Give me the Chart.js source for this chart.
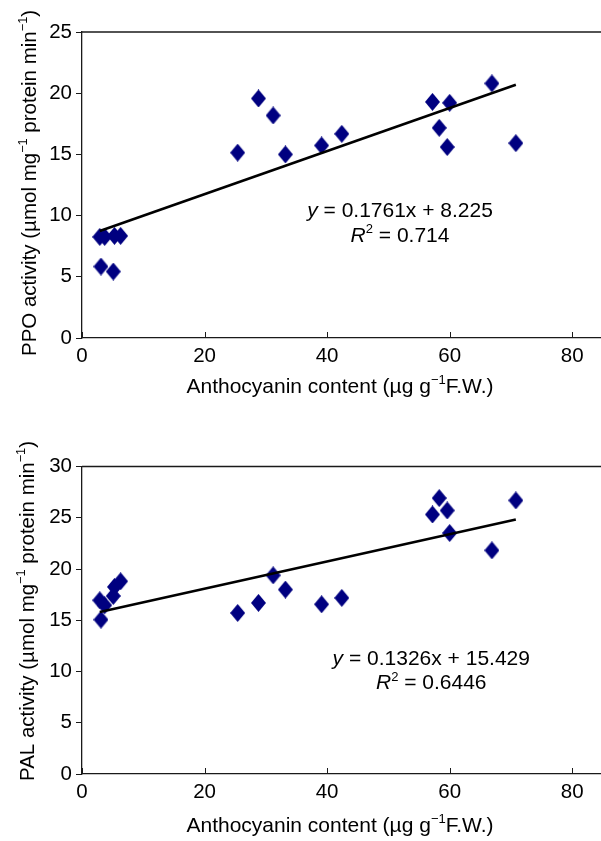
<!DOCTYPE html>
<html>
<head>
<meta charset="utf-8">
<script src="https://cdn.jsdelivr.net/npm/chart.js@4.4.1/dist/chart.umd.min.js"></script>
<style>
  html, body { margin: 0; padding: 0; background: #fff; }
  #wrap { position: relative; width: 601px; height: 841px; overflow: hidden; }
  canvas { position: absolute; left: 0; }
</style>
</head>
<body>
<div id="wrap">
  <canvas id="chart1" width="601" height="420" style="top:0"></canvas>
  <canvas id="chart2" width="601" height="421" style="top:420px"></canvas>
</div>
<script>
// values
var anthocyanin = [2.9, 3.1, 3.7, 5.1, 5.3, 6.3, 25.4, 28.8, 31.2, 33.2, 39.1, 42.4, 57.2, 58.3, 59.6, 60.0, 66.9, 70.8];
var ppo = [8.26, 5.84, 8.26, 5.43, 8.34, 8.34, 15.14, 19.57, 18.18, 15.0, 15.73, 16.68, 19.29, 17.17, 15.6, 19.21, 20.8, 15.92];
var pal = [16.95, 15.06, 16.46, 17.37, 18.25, 18.8, 15.71, 16.69, 19.38, 17.99, 16.56, 17.18, 25.32, 26.92, 25.71, 23.51, 21.82, 26.69];

// trend line end points
var fitX = [2.9, 70.8];
var ppoFit = [8.74, 20.69];
var palFit = [15.81, 24.82];

var xTicks = [0, 20, 40, 60, 80];

var FONT = '"Liberation Sans", Arial, sans-serif';
var AXIS = "#1a1a1a";
var MARK = "#000080";

Chart.defaults.font.family = FONT;
Chart.defaults.font.size = 20.5;
Chart.defaults.color = "#000";

// tall diamond marker
function diamond(w, h) {
  var c = document.createElement("canvas");
  c.width = w; c.height = h;
  var g = c.getContext("2d");
  g.fillStyle = MARK;
  g.beginPath();
  g.moveTo(w / 2, 0); g.lineTo(w, h / 2); g.lineTo(w / 2, h); g.lineTo(0, h / 2);
  g.closePath(); g.fill();
  return c;
}
var marker = diamond(15, 18);

function fontFor(p, size) {
  return (p.it ? "italic " : "") + (p.sup ? size * 0.62 : size) + "px " + FONT;
}

// text with superscripts / italics, centred on x
function drawRich(ctx, parts, x, y, size, rotate) {
  var w = 0;
  parts.forEach(function (p) {
    ctx.font = fontFor(p, size);
    p.w = ctx.measureText(p.t).width;
    w += p.w;
  });
  ctx.save();
  ctx.translate(x, y);
  if (rotate) ctx.rotate(-Math.PI / 2);
  ctx.textAlign = "left";
  ctx.textBaseline = "alphabetic";
  ctx.fillStyle = "#000";
  var cx = -w / 2;
  parts.forEach(function (p) {
    ctx.font = fontFor(p, size);
    ctx.fillText(p.t, cx, p.sup ? -size * 0.42 : 0);
    cx += p.w;
  });
  ctx.restore();
}

var decor = {
  id: "decor",
  afterDraw: function (chart) {
    var o = chart.options.plugins.decor;
    var ctx = chart.ctx, a = chart.chartArea;
    var xs = chart.scales.x, ys = chart.scales.y;
    ctx.save();
    ctx.strokeStyle = AXIS;
    ctx.lineWidth = 1.3;
    ctx.beginPath();
    ctx.moveTo(a.left, a.top);
    ctx.lineTo(a.right, a.top);
    ctx.stroke();
    // x ticks point inwards
    ctx.lineWidth = 1;
    ctx.beginPath();
    xTicks.forEach(function (v) {
      var px = Math.round(xs.getPixelForValue(v)) + 0.5;
      ctx.moveTo(px, a.bottom);
      ctx.lineTo(px, a.bottom - 6);
    });
    ctx.stroke();
    ctx.restore();

    drawRich(ctx, o.xTitle, o.xTitlePos[0], o.xTitlePos[1], 21, false);
    drawRich(ctx, o.yTitle, o.yTitlePos[0], o.yTitlePos[1], 20.5, true);
    o.eq.forEach(function (line, i) {
      drawRich(ctx, line, xs.getPixelForValue(o.eqAt[i][0]), ys.getPixelForValue(o.eqAt[i][1]), 21, false);
    });
  }
};

function points(ys) {
  return anthocyanin.map(function (x, i) { return { x: x, y: ys[i] }; });
}

function makeChart(id, vals, fit, yMax, padTop, xHeight, opts) {
  var ctx = document.getElementById(id);
  return new Chart(ctx, {
    type: "scatter",
    data: {
      datasets: [
        {
          type: "line",
          data: fitX.map(function (x, i) { return { x: x, y: fit[i] }; }),
          borderColor: "#000",
          borderWidth: 2.6,
          pointRadius: 0,
          fill: false,
          order: 0,
        },
        {
          data: points(vals),
          pointStyle: marker,
          pointRadius: 9,
          order: 1,
        },
      ],
    },
    options: {
      responsive: false,
      animation: false,
      events: [],
      layout: { autoPadding: false, padding: { top: padTop, right: 0, bottom: 0, left: 0 } },
      plugins: { legend: { display: false }, tooltip: { enabled: false }, decor: opts },
      scales: {
        x: {
          type: "linear",
          min: 0,
          max: 84.7,
          afterFit: function (s) { s.height = xHeight; s.paddingRight = 0; s.paddingLeft = 0; },
          afterBuildTicks: function (s) { s.ticks = xTicks.map(function (v) { return { value: v }; }); },
          grid: { display: false },
          border: { display: true, color: AXIS, width: 1.3 },
          ticks: { padding: -2, maxRotation: 0, autoSkip: false },
        },
        y: {
          type: "linear",
          min: 0,
          max: yMax,
          afterFit: function (s) { s.width = 82; },
          grid: { drawOnChartArea: false, drawTicks: true, tickLength: 6, color: AXIS, lineWidth: 1 },
          border: { display: true, color: AXIS, width: 1.3 },
          ticks: { stepSize: 5, padding: 4 },
        },
      },
    },
    plugins: [decor],
  });
}

var xTitle = [{ t: "Anthocyanin content (µg g" }, { t: "−1", sup: true }, { t: "F.W.)" }];

makeChart("chart1", ppo, ppoFit, 25, 32, 82, {
  xTitle: xTitle,
  xTitlePos: [340, 393.3],
  yTitle: [{ t: "PPO activity (µmol mg" }, { t: "−1", sup: true }, { t: " protein min" }, { t: "−1", sup: true }, { t: ")" }],
  yTitlePos: [36, 183],
  eq: [
    [{ t: "y", it: true }, { t: " = 0.1761x + 8.225" }],
    [{ t: "R", it: true }, { t: "2", sup: true }, { t: " = 0.714" }],
  ],
  eqAt: [[51.9, 9.89], [51.9, 7.88]],
});

makeChart("chart2", pal, palFit, 30, 46.5, 67, {
  xTitle: xTitle,
  xTitlePos: [340, 411.7],
  yTitle: [{ t: "PAL activity (µmol mg" }, { t: "−1", sup: true }, { t: " protein min" }, { t: "−1", sup: true }, { t: ")" }],
  yTitlePos: [34, 191],
  eq: [
    [{ t: "y", it: true }, { t: " = 0.1326x + 15.429" }],
    [{ t: "R", it: true }, { t: "2", sup: true }, { t: " = 0.6446" }],
  ],
  eqAt: [[57.0, 10.68], [57.0, 8.25]],
});
</script>
</body>
</html>
